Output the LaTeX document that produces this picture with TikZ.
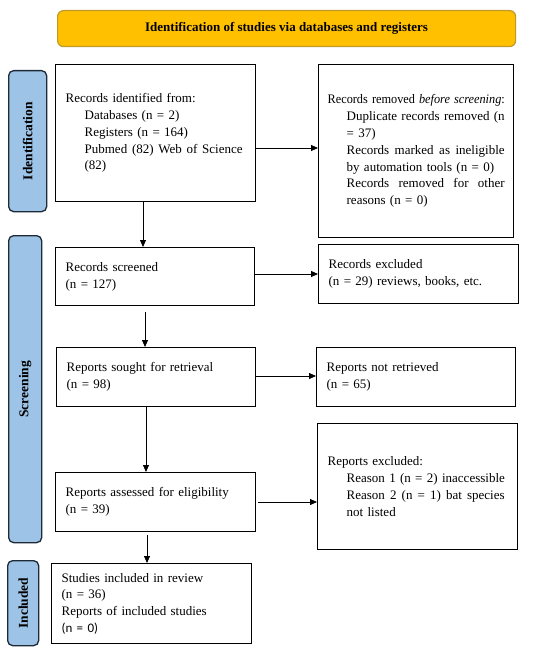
\documentclass[tikz,border=0pt]{standalone}
\usepackage{graphicx}
\usepackage{fontspec}
\setmainfont{Liberation Serif}
\newfontfamily\calib{Carlito}
\usetikzlibrary{arrows.meta}
\definecolor{gold}{HTML}{FFC000}
\definecolor{goldline}{HTML}{BF9A28}
\definecolor{sideblue}{HTML}{9DC3E6}
\definecolor{sideline}{HTML}{1E2A38}
\tikzset{
  box/.style={draw=black, line width=1.3pt, anchor=north west, align=left, inner xsep=10pt, inner ysep=0pt, font=\fontsize{13}{16.8}\selectfont},
  side/.style={draw=sideline, fill=sideblue, line width=1.3pt, rounded corners=5pt, anchor=north west, inner sep=0pt},
  sidetext/.style={rotate=90, font=\bfseries\fontsize{13.5}{15}\selectfont},
  arr/.style={-{Triangle[length=7pt,width=6pt]}, line width=0.8pt},
}
\newcommand{\ind}{\hspace*{19pt}}
\newcommand{\jline}[1]{\makebox[158pt][l]{#1}}
\begin{document}
\begin{tikzpicture}[x=1pt,y=-1pt]
\useasboundingbox (0,0) rectangle (550,652);
\fill[white] (0,0) rectangle (550,652);
% banner
\node[draw=goldline, fill=gold, line width=1.2pt, rounded corners=6pt, anchor=north west, minimum width=458pt, minimum height=36pt, inner sep=0pt, font=\bfseries\fontsize{13}{15}\selectfont] (banner) at (57,10) {Identification of studies via databases and registers};
% side bars
\node[side, minimum width=38pt, minimum height=141pt] (sid) at (8,70) {};
\node[sidetext] at (sid.center) {Identification};
\node[side, minimum width=33pt, minimum height=307pt] (sscr) at (8,235) {};
\node[sidetext] at (sscr.center) {Screening};
\node[side, minimum width=31pt, minimum height=85pt] (sinc) at (7,560) {};
\node[sidetext] at (sinc.center) {Included};
% boxes
\node[box, text width=180pt, minimum height=137pt, inner xsep=10pt] (ident) at (55,64) {Records identified from:\\
\ind Databases (n = 2)\\
\ind Registers (n = 164)\\
\ind\jline{Pubmed\hfill(82)\hfill Web\hfill of\hfill Science}\\
\ind (82)};
\node[box, text width=177pt, minimum height=173pt, inner xsep=9pt] (removed) at (318,64) {\scalebox{0.945}[1]{Records removed \textit{before screening}:}\\
\ind\jline{Duplicate\hfill records\hfill removed\hfill (n}\\
\ind = 37)\\
\ind\jline{Records\hfill marked\hfill as\hfill ineligible}\\
\ind by automation tools (n = 0)\\
\ind\jline{Records\hfill removed\hfill for\hfill other}\\
\ind reasons (n = 0)};
\node[box, text width=179pt, minimum height=58pt] (screened) at (55,247) {Records screened\\(n = 127)};
\node[box, text width=180pt, minimum height=59pt] (excluded) at (318,244) {Records excluded\\(n = 29) reviews, books, etc.};
\node[box, text width=179pt, minimum height=59pt] (sought) at (56,347) {Reports sought for retrieval\\(n = 98)};
\node[box, text width=179pt, minimum height=59pt] (notret) at (316,347) {Reports not retrieved\\(n = 65)};
\node[box, text width=180pt, minimum height=59pt] (assessed) at (55,472) {Reports assessed for eligibility\\(n = 39)};
\node[box, text width=180pt, minimum height=126pt] (repexcl) at (317,423) {Reports excluded:\\
\ind Reason 1 (n = 2) inaccessible\\
\ind\jline{Reason\hfill 2\hfill (n\hfill =\hfill 1)\hfill bat\hfill species}\\
\ind not listed};
\node[box, text width=180pt, minimum height=80pt] (included) at (51,563) {Studies included in review\\(n = 36)\\Reports of included studies\\{\calib (n = 0)}};
% arrows
\draw[arr] (ident.east |- 0,148) -- (removed.west |- 0,148);
\draw[arr] (143,0 |- ident.south) -- (143,0 |- screened.north);
\draw[arr] (screened.east |- 0,274) -- (excluded.west |- 0,274);
\coordinate (d2) at (145,312);
\draw[arr] (d2) -- (145,0 |- sought.north);
\draw[arr] (sought.east |- 0,376) -- (notret.west |- 0,376);
\draw[arr] (146,0 |- sought.south) -- (146,0 |- assessed.north);
\draw[arr] (258,502) -- (repexcl.west |- 0,502);
\coordinate (d4) at (147,535);
\draw[arr] (d4) -- (147,0 |- included.north);
\end{tikzpicture}
\end{document}
